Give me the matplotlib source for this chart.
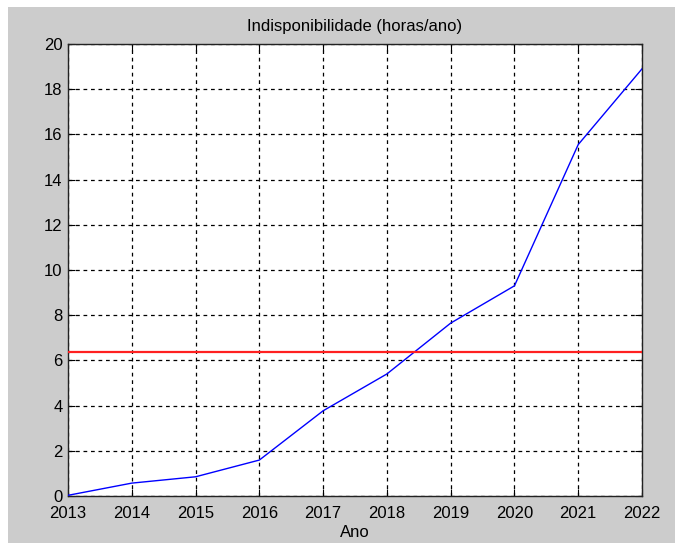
import matplotlib
matplotlib.use("Agg")
import matplotlib.pyplot as plt
from matplotlib.patches import Rectangle

anos = [2013, 2014, 2015, 2016, 2017, 2018, 2019, 2020, 2021, 2022]
indisponibilidade = [0.03, 0.57, 0.85, 1.59, 3.77, 5.4, 7.65, 9.3, 15.55, 18.9]
limite = 6.35

plt.rcParams["font.family"] = ["Liberation Sans Narrow", "Liberation Sans", "DejaVu Sans"]

fig = plt.figure(figsize=(6.75, 5.43), dpi=100, facecolor="white")
# grey MATLAB-style background, leaving a thin white strip at top/left
fig.patches.append(Rectangle((8 / 675, 0), 1 - 8 / 675, (543 - 7) / 543,
                             transform=fig.transFigure, facecolor="#cccccc",
                             edgecolor="none", zorder=-1))

ax = fig.add_axes([68 / 675, 47 / 543, 574 / 675, 452 / 543])
ax.set_facecolor("white")

ax.plot(anos, indisponibilidade, color="blue", lw=1.0, zorder=3)
ax.axhline(limite, color="#ff2020", lw=1.6, zorder=3)

ax.set_xlim(anos[0], anos[-1])
ax.set_ylim(0, 20)
ax.set_xticks(anos)
ax.set_yticks(range(0, 21, 2))

ax.grid(True, color="black", linestyle=(0, (3, 3)), lw=0.9)
ax.set_axisbelow(True)
ax.tick_params(direction="in", length=5, width=0.8, top=True, right=True,
               labelsize=12, colors="black")
ax.tick_params(axis="x", pad=7)
ax.tick_params(axis="y", pad=4)
for s in ax.spines.values():
    s.set_linewidth(1.0)
    s.set_color("#222222")

ax.set_title("Indisponibilidade (horas/ano)", fontsize=12, pad=9)
ax.set_xlabel("Ano", fontsize=12, labelpad=3)

fig.savefig("out.png", dpi=100, facecolor=fig.get_facecolor())
